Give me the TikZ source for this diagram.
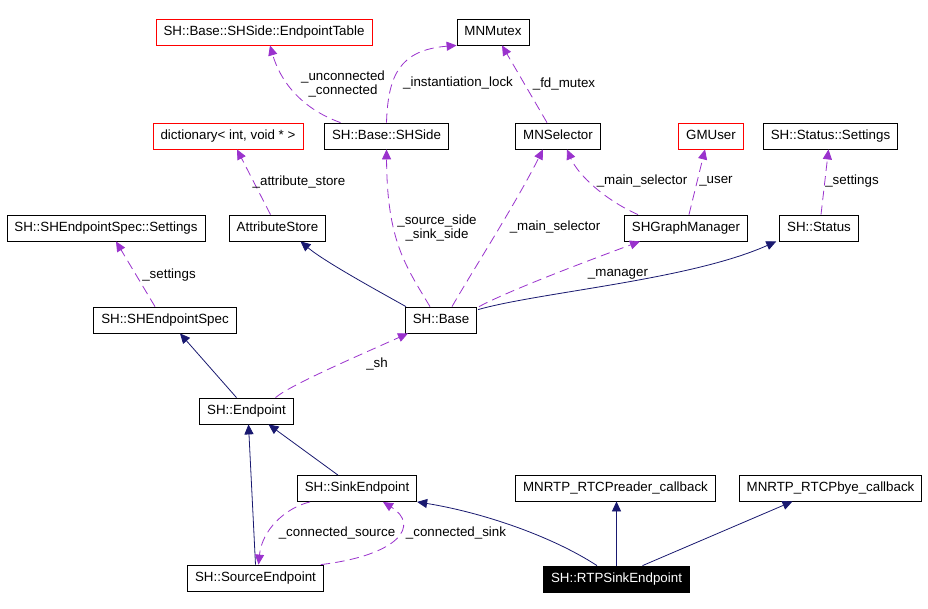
\documentclass[tikz,border=0pt]{standalone}
\usepackage{fontspec}
\setmainfont{Liberation Sans}
\usepackage{tikz}
\usetikzlibrary{arrows.meta,positioning,calc}
\definecolor{inhblue}{RGB}{25,25,112}
\definecolor{memviolet}{RGB}{154,50,205}
\definecolor{extred}{RGB}{255,0,0}

\begin{document}
\begin{tikzpicture}[
  x=0.75pt,y=-0.75pt,
  cls/.style={draw=black,fill=white,line width=0.6pt,font=\fontsize{10pt}{10.5pt}\selectfont,
    text height=7.2pt,text depth=2.1pt,inner ysep=5.1pt,inner xsep=5.6pt},
  redcls/.style={cls,draw=extred},
  cur/.style={cls,fill=black,text=white},
  inh/.style={-{Triangle[length=7.5pt,width=6.8pt,fill=inhblue]},draw=inhblue,line width=0.6pt},
  mem/.style={-{Triangle[length=7.5pt,width=6.8pt,fill=memviolet]},draw=memviolet,line width=0.6pt,
    dash pattern=on 7pt off 4pt},
  lab/.style={font=\fontsize{10pt}{10.5pt}\selectfont,align=center,inner sep=0pt}
]
\fill[white] (0,0) rectangle (928,608);
\useasboundingbox (0,0) rectangle (928,608);

% classes
\node[redcls] (ept) at (264,32) {SH::Base::SHSide::EndpointTable};
\node[cls] (mutex) at (493,32) {MNMutex};
\node[redcls] (dict) at (228,136) {dictionary< int, void * >};
\node[cls] (shside) at (386.5,136) {SH::Base::SHSide};
\node[cls] (selector) at (558,136) {MNSelector};
\node[redcls] (gmuser) at (711,136) {GMUser};
\node[cls] (stset) at (830.5,136) {SH::Status::Settings};
\node[cls] (spset) at (106,228) {SH::SHEndpointSpec::Settings};
\node[cls] (attr) at (277.5,228) {AttributeStore};
\node[cls] (mgr) at (686,228) {SHGraphManager};
\node[cls] (status) at (819,228) {SH::Status};
\node[cls] (spec) at (165,320) {SH::SHEndpointSpec};
\node[cls] (base) at (441,320) {SH::Base};
\node[cls] (endpoint) at (246.5,411) {SH::Endpoint};
\node[cls] (sink) at (357,488.5) {SH::SinkEndpoint};
\node[cls] (reader) at (615.5,488) {MNRTP\_RTCPreader\_callback};
\node[cls] (bye) at (830.5,488) {MNRTP\_RTCPbye\_callback};
\node[cls] (source) at (255.5,578) {SH::SourceEndpoint};
\node[cur] (rtp) at (616.5,579) {SH::RTPSinkEndpoint};

% inheritance
\draw[inh] ($(base.north west)+(1,0)$) .. controls (380,292) and (325,262) .. ($(attr.south)+(23,0)$);
\draw[inh] ($(base.north east)+(1,3)$) .. controls (540,292) and (690,280) .. ($(status.south west)+(-3,0)$);
\draw[inh] ($(endpoint.north)+(-10,0)$) -- ($(spec.south)+(15,0)$);
\draw[inh] ($(sink.north)+(-19,0)$) -- ($(endpoint.south)+(22,0)$);
\draw[inh] (source.north) -- ($(endpoint.south)+(2,0)$);
\draw[inh] ($(rtp.north)+(-19.5,0)$) .. controls (550,535) and (480,512) .. (sink.south east);
\draw[inh] (rtp.north) -- (rtp.north |- reader.south);
\draw[inh] ($(rtp.north)+(26,0)$) -- ($(bye.south)+(-38,0)$);

% members
\draw[mem] ($(shside.north)+(-46,0)$) .. controls (300,108) and (280,80) .. ($(ept.south)+(6,0)$);
\draw[mem] (shside.north) .. controls (388,75) and (400,50) .. (mutex.south west);
\draw[mem] ($(selector.north)+(-11,0)$) -- ($(mutex.south)+(9,0)$);
\draw[mem] ($(attr.north)+(-7,0)$) -- ($(dict.south)+(9,0)$);
\draw[mem] ($(base.north)+(-11,0)$) .. controls (405,265) and (387,240) .. (shside.south);
\draw[mem] ($(base.north)+(11,0)$) .. controls (470,275) and (515,205) .. ($(selector.south)+(-15,0)$);
\draw[mem] ($(mgr.north)+(-48,0)$) .. controls (605,200) and (578,175) .. ($(selector.south)+(9,0)$);
\draw[mem] ($(mgr.north)+(3,0)$) -- ($(gmuser.south)+(-6,0)$);
\draw[mem] ($(status.north)+(2,0)$) -- ($(stset.south)+(-2,0)$);
\draw[mem] ($(base.north east)+(2,0)$) .. controls (510,290) and (590,260) .. ($(mgr.south)+(-46,0)$);
\draw[mem] ($(spec.north)+(-10,0)$) -- ($(spset.south)+(10,0)$);
\draw[mem] ($(endpoint.north)+(29,0)$) .. controls (290,385) and (360,355) .. ($(base.south west)+(3,0)$);
\draw[mem] ($(sink.south)+(-47,0)$) .. controls (285,508) and (262,530) .. ($(source.north)+(3,0)$);
\draw[mem] ($(source.north east)+(-3,0)$) .. controls (400,555) and (420,525) .. ($(sink.south)+(26,0)$);

% member labels
\node[lab] (lconn) at (343,84) {\_unconnected\\\_connected};
\node[lab] (llock) at (458,83) {\_instantiation\_lock};
\node[lab] (lfd) at (564,84) {\_fd\_mutex};
\node[lab] (lattr) at (299,182) {\_attribute\_store};
\node[lab] (lside) at (437,228) {\_source\_side\\\_sink\_side};
\node[lab] (lsel) at (555,227) {\_main\_selector};
\node[lab] (lmsel) at (642,181) {\_main\_selector};
\node[lab] (luser) at (716,181) {\_user};
\node[lab] (lstset) at (852,181) {\_settings};
\node[lab] (lmgr) at (618,274) {\_manager};
\node[lab] (lspset) at (169,275) {\_settings};
\node[lab] (lsh) at (377,364) {\_sh};
\node[lab] (lsrc) at (337,533) {\_connected\_source};
\node[lab] (lsnk) at (456,533) {\_connected\_sink};
\end{tikzpicture}
\end{document}
